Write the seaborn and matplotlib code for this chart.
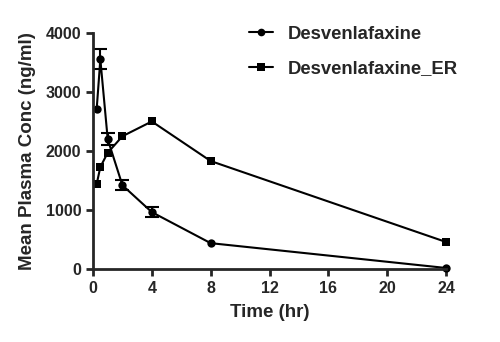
import numpy as np
import pandas as pd
import matplotlib
matplotlib.use("Agg")
import matplotlib.pyplot as plt
import seaborn as sns

# values
time_hr = [0.25, 0.5, 1, 2, 4, 8, 24]
desv_conc = [2710, 3550, 2200, 1420, 965, 440, 20]
desv_err = [0, 170, 100, 85, 85, 0, 0]
er_conc = [1440, 1730, 1970, 2250, 2500, 1830, 460]
er_err = [0, 0, 0, 0, 0, 0, 0]

df = pd.concat([
    pd.DataFrame({'time': time_hr, 'conc': desv_conc, 'err': desv_err, 'drug': 'Desvenlafaxine'}),
    pd.DataFrame({'time': time_hr, 'conc': er_conc, 'err': er_err, 'drug': 'Desvenlafaxine_ER'}),
], ignore_index=True)

sns.set_style("ticks")
plt.rcParams['font.family'] = ['Liberation Sans', 'DejaVu Sans']
plt.rcParams['font.weight'] = 'bold'

fig = plt.figure(figsize=(5, 3.42), dpi=100)
ax = fig.add_axes([0.186, 0.213, 0.706, 0.691])

sns.lineplot(data=df, x='time', y='conc', style='drug', markers={'Desvenlafaxine': 'o', 'Desvenlafaxine_ER': 's'},
             dashes=False, color='black', linewidth=1.5, markersize=6, markeredgewidth=0,
             ax=ax, legend=True, clip_on=False)
# squares a bit smaller than circles
for ln in ax.lines:
    if ln.get_marker() == 's':
        ln.set_markersize(5.2)

# error bars only where they are visible
eb = df[df['err'] > 0]
ax.errorbar(eb['time'], eb['conc'], yerr=eb['err'], fmt='none', ecolor='black',
            elinewidth=1.5, capsize=5, capthick=1.5, clip_on=False)

ax.set_xlim(0, 24)
ax.set_ylim(0, 4000)
ax.set_xticks([0, 4, 8, 12, 16, 20, 24])
ax.set_yticks([0, 1000, 2000, 3000, 4000])
ax.set_xlabel('Time (hr)', fontsize=13.5, fontweight='bold', labelpad=6)
ax.set_ylabel('Mean Plasma Conc (ng/ml)', fontsize=13.5, fontweight='bold', labelpad=7)
ax.tick_params(labelsize=11.5, width=2, length=5, direction='out')
for s in ['left', 'bottom']:
    ax.spines[s].set_linewidth(2)
sns.despine(ax=ax)

leg = ax.legend(loc='upper left', bbox_to_anchor=(0.395, 1.10), frameon=False,
                fontsize=13.3, handlelength=1.3, labelspacing=0.95, handletextpad=0.8)
for t in leg.get_texts():
    t.set_fontweight('bold')
for h in leg.legend_handles:
    h.set_markersize(5.5)

fig.savefig('out.png', dpi=100)
